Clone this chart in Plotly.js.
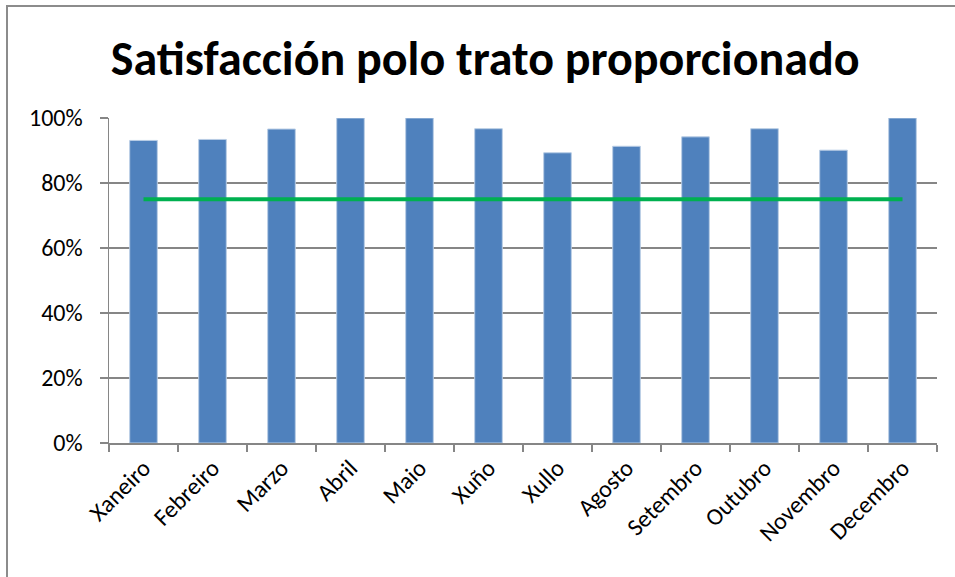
<!DOCTYPE html>
<html>
<head>
<meta charset="utf-8">
<script src="https://cdn.plot.ly/plotly-3.0.1.min.js"></script>
<style>
  html, body { margin: 0; padding: 0; background: #fff; }
  #chart { position: absolute; left: 0; top: 0; width: 955px; height: 577px; }
  #frame { position: absolute; left: 6px; top: 5px; width: 960px; height: 600px;
           border-left: 2px solid #8c8c8c; border-top: 2px solid #8c8c8c; pointer-events: none; }
</style>
</head>
<body>
<div id="chart"></div>
<div id="frame"></div>
<script>
const months = ["Xaneiro", "Febreiro", "Marzo", "Abril", "Maio", "Xuño", "Xullo", "Agosto", "Setembro", "Outubro", "Novembro", "Decembro"];
const satisfaction = [0.931, 0.934, 0.966, 1.0, 1.0, 0.967, 0.893, 0.913, 0.942, 0.967, 0.901, 1.0];
const target = [0.75, 0.75, 0.75, 0.75, 0.75, 0.75, 0.75, 0.75, 0.75, 0.75, 0.75, 0.75];
const titleText = "Satisfacción polo trato proporcionado";

const fontFam = "Carlito, Lato, 'Open Sans', sans-serif";

const traces = [
  {
    type: "bar",
    x: months,
    y: satisfaction,
    width: 0.4,
    marker: { color: "#4F81BD", line: { color: "#B9CDE5", width: 1 } },
    hoverinfo: "x+y"
  },
  {
    type: "scatter",
    mode: "lines",
    x: months,
    y: target,
    line: { color: "#00B050", width: 4 },
    hoverinfo: "y"
  }
];

const layout = {
  width: 955,
  height: 577,
  margin: { l: 109, r: 18, t: 118, b: 134 },
  paper_bgcolor: "#ffffff",
  plot_bgcolor: "#ffffff",
  showlegend: false,
  title: {
    text: "<b>" + titleText + "</b>",
    font: { family: fontFam, size: 48, color: "#000000" },
    x: 0.508,
    xanchor: "center",
    y: 0.9,
    yanchor: "middle"
  },
  xaxis: {
    type: "category",
    tickson: "boundaries",
    ticks: "outside",
    ticklen: 7,
    tickwidth: 1.5,
    tickcolor: "#868686",
    showline: true,
    linecolor: "#868686",
    linewidth: 1.5,
    showgrid: false,
    tickangle: -45,
    tickfont: { family: fontFam, size: 24, color: "#000000" },
    fixedrange: true
  },
  yaxis: {
    range: [0, 1],
    dtick: 0.2,
    tick0: 0,
    tickformat: ".0%",
    ticks: "outside",
    ticklen: 8,
    tickwidth: 1.5,
    tickcolor: "#868686",
    ticklabelstandoff: 12,
    showline: true,
    linecolor: "#868686",
    linewidth: 1.5,
    showgrid: true,
    gridcolor: "#868686",
    gridwidth: 1.5,
    zeroline: false,
    tickfont: { family: fontFam, size: 24, color: "#000000" },
    fixedrange: true
  }
};

Plotly.newPlot("chart", traces, layout, { displayModeBar: false, staticPlot: true });
</script>
</body>
</html>
